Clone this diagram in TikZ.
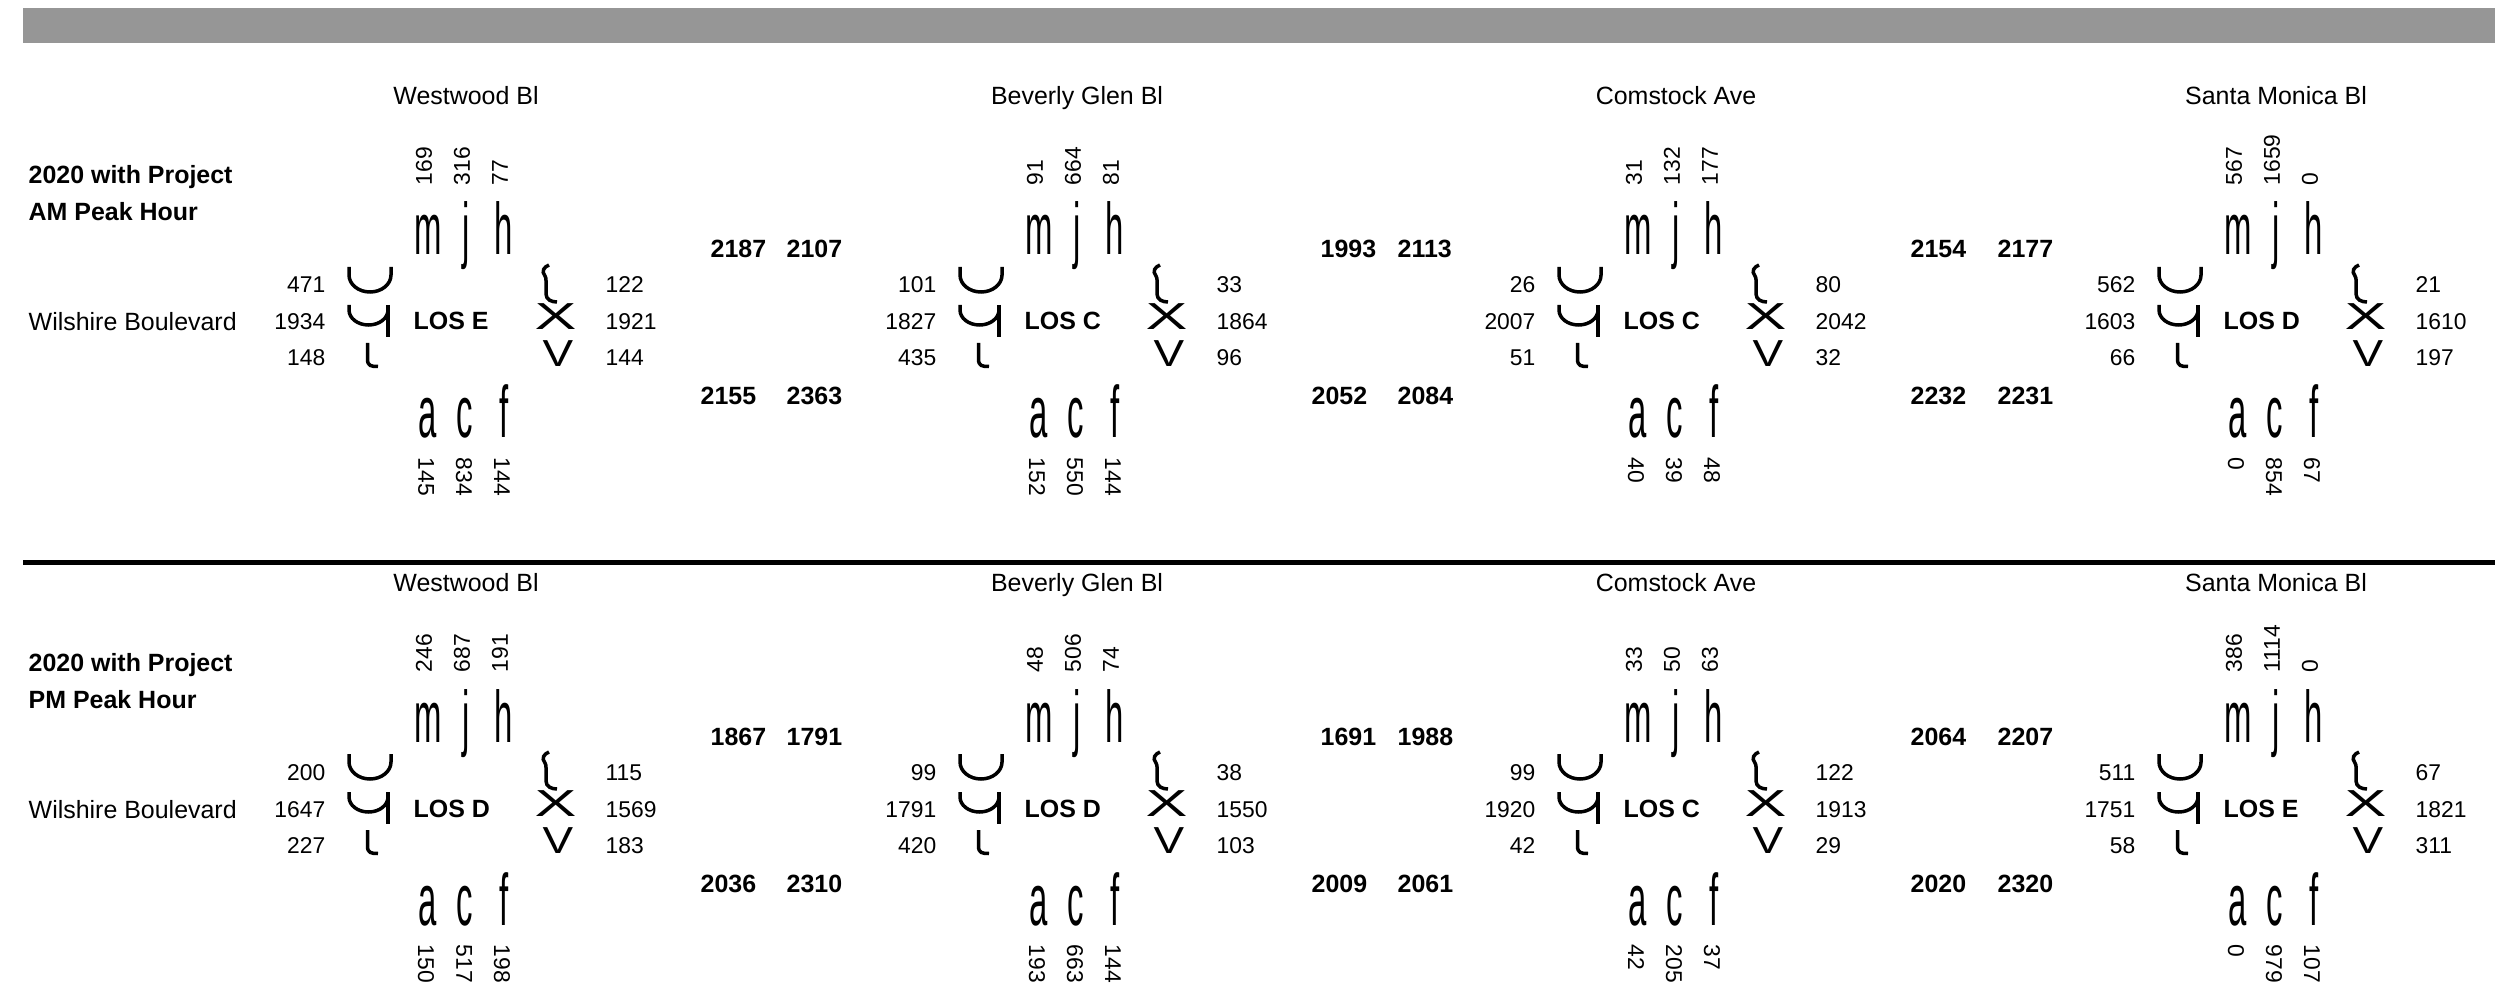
\documentclass[tikz,border=0pt]{standalone}
\usepackage{fontspec}
\setmainfont{Liberation Sans}
\newfontfamily\movefont{Liberation Sans}[FakeStretch=0.45]

\begin{document}
\begin{tikzpicture}[lbl/.style={font=\fontsize{7.1}{8.5}\selectfont, inner sep=0pt},
	hdr/.style={font=\fontsize{7.1}{8.5}\selectfont\bfseries, inner sep=0pt, anchor=base west},
	num/.style={font=\fontsize{6.5}{7.8}\selectfont, inner sep=0pt},
	mv/.style={font=\movefont\fontsize{20.8}{25}\selectfont, inner sep=0pt, anchor=base},
	sym/.style={font=\fontsize{10.7}{12.8}\selectfont, inner sep=0pt},
	arm/.style={line width=0.035cm}]
	\useasboundingbox (0,0) rectangle (24.95,-9.88);
	\fill[black!41] (0.23,-0.08) rectangle (24.95,-0.43);
	\fill[black] (0.23,-5.60) rectangle (24.95,-5.65);
	% period headings
	\foreach \dy/\per [count=\r] in {0/AM,-4.87/PM} {
		\node[hdr] (yr-\r) at (0.28,{-1.84+\dy}) {2020 with Project};
		\node[hdr] (pk-\r) at (0.28,{-2.21+\dy}) {\per{} Peak Hour};
		\node[lbl, anchor=base west] (wb-\r) at (0.28,{-3.31+\dy}) {Wilshire Boulevard};
	}
	% intersections
	\foreach \ox/\oy/\street/\los/\tA/\tB/\tC/\lA/\lB/\lC/\rA/\rB/\rC/\bA/\bB/\bC [count=\k] in {
		4.66/-3.22/Westwood Bl/LOS E/169/316/77/471/1934/148/122/1921/144/145/834/144,
		10.77/-3.22/Beverly Glen Bl/LOS C/91/664/81/101/1827/435/33/1864/96/152/550/144,
		16.76/-3.22/Comstock Ave/LOS C/31/132/177/26/2007/51/80/2042/32/40/39/48,
		22.76/-3.22/Santa Monica Bl/LOS D/567/1659/0/562/1603/66/21/1610/197/0/854/67,
		4.66/-8.09/Westwood Bl/LOS D/246/687/191/200/1647/227/115/1569/183/150/517/198,
		10.77/-8.09/Beverly Glen Bl/LOS D/48/506/74/99/1791/420/38/1550/103/193/663/144,
		16.76/-8.09/Comstock Ave/LOS C/33/50/63/99/1920/42/122/1913/29/42/205/37,
		22.76/-8.09/Santa Monica Bl/LOS E/386/1114/0/511/1751/58/67/1821/311/0/979/107} {
		\begin{scope}[shift={(\ox,\oy)}]
			\node[lbl, anchor=base] (st-\k) at (0,2.17) {\street};
			\node[hdr] (los-\k) at (-0.53,-0.08) {\los};
			% north approach
			\node[num, rotate=90, anchor=west] (t1-\k) at (-0.42,1.36) {\tA};
			\node[num, rotate=90, anchor=west] (t2-\k) at (-0.04,1.36) {\tB};
			\node[num, rotate=90, anchor=west] (t3-\k) at (0.34,1.36) {\tC};
			\node[mv] (m-\k) at (-0.38,0.67) {m};
			\node[mv] (j-\k) at (0,0.67) {j};
			\node[mv] (h-\k) at (0.38,0.67) {h};
			% south approach
			\node[mv] (a-\k) at (-0.38,-1.16) {a};
			\node[mv] (c-\k) at (-0.01,-1.16) {c};
			\node[mv] (f-\k) at (0.38,-1.16) {f};
			\node[num, rotate=-90, anchor=west] (b1-\k) at (-0.40,-1.35) {\bA};
			\node[num, rotate=-90, anchor=west] (b2-\k) at (-0.02,-1.35) {\bB};
			\node[num, rotate=-90, anchor=west] (b3-\k) at (0.36,-1.35) {\bC};
			% west approach
			\node[num, anchor=base east] (l1-\k) at (-1.40,0.29) {\lA};
			\node[num, anchor=base east] (l2-\k) at (-1.40,-0.08) {\lB};
			\node[num, anchor=base east] (l3-\k) at (-1.40,-0.44) {\lC};
			\draw[arm] (-1.17,0.55) -- (-1.17,0.47) arc[start angle=180, end angle=360, x radius=0.21, y radius=0.17] -- (-0.75,0.55);
			\draw[arm] (-1.17,0.17) -- (-1.17,0.12) arc[start angle=180, end angle=360, x radius=0.195, y radius=0.15];
			\draw[arm] (-0.78,0.17) -- (-0.78,-0.15);
			\draw[arm] (-0.985,-0.21) -- (-0.985,-0.37) .. controls (-0.985,-0.44) and (-0.95,-0.445) .. (-0.88,-0.445);
			% east approach
			\draw[arm] (0.83,0.57) .. controls (0.78,0.55) and (0.75,0.51) .. (0.79,0.46) .. controls (0.80,0.44) .. (0.80,0.40) -- (0.80,0.28) .. controls (0.80,0.22) and (0.86,0.20) .. (0.91,0.20);
			\node[sym] (x-\k) at (0.895,0.055) {\scalebox{1.67}[1]{X}};
			\node[sym] (v-\k) at (0.92,-0.315) {\scalebox{1.22}[1]{V}};
			\node[num, anchor=base west] (r1-\k) at (1.39,0.29) {\rA};
			\node[num, anchor=base west] (r2-\k) at (1.39,-0.08) {\rB};
			\node[num, anchor=base west] (r3-\k) at (1.39,-0.44) {\rC};
		\end{scope}
	}
	% link totals between intersections
	\foreach \xu/\xl/\xs/\dy/\ua/\ub/\la/\lb [count=\g] in {
		7.10/7.00/7.86/0/2187/2107/2155/2363, 13.20/13.11/13.97/0/1993/2113/2052/2084,
		19.10/19.10/19.97/0/2154/2177/2232/2231, 7.10/7.00/7.86/-4.87/1867/1791/2036/2310,
		13.20/13.11/13.97/-4.87/1691/1988/2009/2061, 19.10/19.10/19.97/-4.87/2064/2207/2020/2320} {
		\node[hdr] (ua-\g) at (\xu,{-2.58+\dy}) {\ua};
		\node[hdr] (ub-\g) at (\xs,{-2.58+\dy}) {\ub};
		\node[hdr] (la-\g) at (\xl,{-4.05+\dy}) {\la};
		\node[hdr] (lb-\g) at (\xs,{-4.05+\dy}) {\lb};
	}
\end{tikzpicture}
\end{document}
